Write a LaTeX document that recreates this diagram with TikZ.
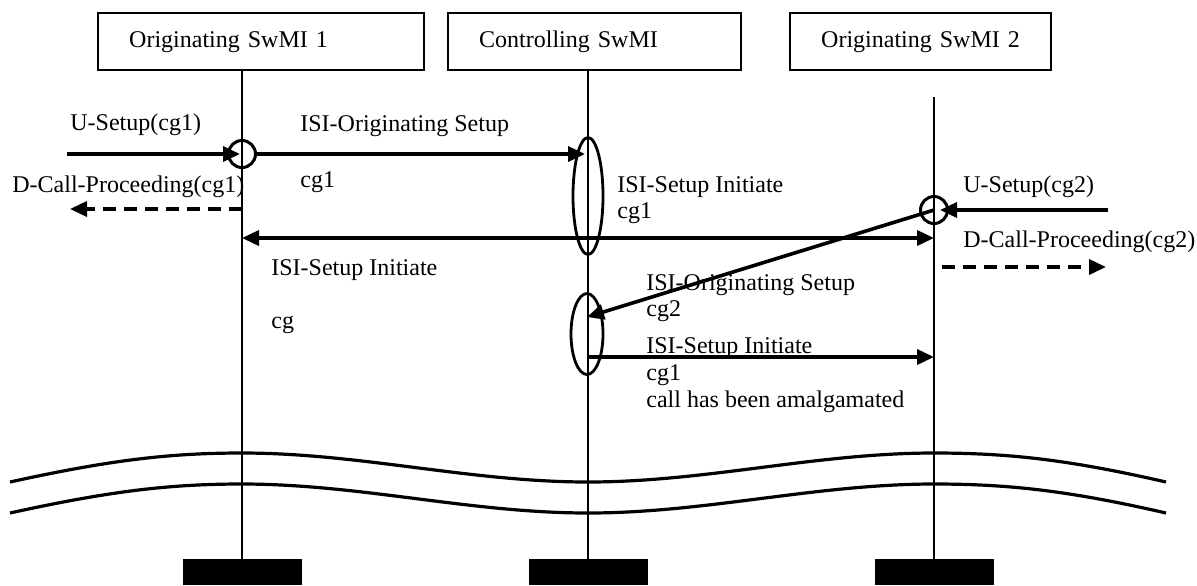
\documentclass[tikz,border=0pt]{standalone}
\usepackage{fontspec}
\setmainfont{Liberation Serif}
\usetikzlibrary{arrows.meta,shapes.geometric}

\begin{document}
\begin{tikzpicture}[
    x=0.5pt, y=-0.5pt,
    every node/.style={font=\fontsize{12}{14.4}\selectfont},
    swmi/.style={draw, line width=1.2pt, anchor=north west, minimum height=28.5pt,
                 inner xsep=15.5pt, align=left},
    foot/.style={fill=black, anchor=north, minimum width=59.5pt, minimum height=13pt, inner sep=0pt},
    life/.style={line width=1.2pt},
    msg/.style={line width=1.8pt, -{Triangle[length=8.5pt,width=7.5pt]}},
    msgboth/.style={line width=1.8pt, {Triangle[length=8.5pt,width=7.5pt]}-{Triangle[length=8.5pt,width=7.5pt]}},
    dmsg/.style={msg, dash pattern=on 6.5pt off 4pt},
    ring/.style={circle, draw, line width=1.5pt, minimum size=13.5pt, inner sep=0pt},
    blob/.style={ellipse, draw, line width=1.4pt, inner sep=0pt},
    lbl/.style={anchor=base west, inner sep=0pt},
    wave/.style={line width=1.6pt}
]
\useasboundingbox (0,0) rectangle (1197,585);

% --- Instanzen (Kopfkaesten) ---
\node[swmi, text width=132pt]  (b1) at (97,12)  {Originating SwMI 1};
\node[swmi, text width=115.5pt] (b2) at (447,12) {Controlling SwMI};
\node[swmi, text width=99.5pt]  (b3) at (789,12) {Originating SwMI 2};

% --- Fuesse der Lebenslinien ---
\node[foot] (foot1) at (242,559) {};
\node[foot] (foot2) at (588,559) {};
\node[foot] (foot3) at (934,559) {};

% --- Lebenslinien ---
\coordinate (l3top) at (934,97);
\draw[life] (b1.south -| foot1.north) -- (foot1.north);
\draw[life] (b2.south -| foot2.north) -- (foot2.north);
\draw[life] (l3top) -- (foot3.north);

% --- Unterbrechung (Wellen) ---
\foreach \dy in {0,31} {
  \draw[wave, shift={(0,\dy)}] (10,482) .. controls (110,460) and (170,453) .. (242,453)
    .. controls (360,453) and (470,482) .. (588,482)
    .. controls (706,482) and (816,453) .. (934,453)
    .. controls (1010,453) and (1070,460) .. (1166,482);
}

% --- Kreise und Ellipsen ---
\node[ring] (c1) at (242,154) {};
\node[ring] (c2) at (934,210) {};
\node[blob, minimum width=15pt, minimum height=58.5pt] (e1) at (588,196) {};
\node[blob, minimum width=16pt, minimum height=40.5pt] (e2) at (587,334) {};

% --- Hilfspunkte ---
\coordinate (u1start) at (67,154);
\coordinate (d1end) at (70,209);
\coordinate (bcast) at (588,238);
\coordinate (u2start) at (1108,210);
\coordinate (d2end) at (1106,267);
\coordinate (amalgam) at (588,357);

% --- Nachrichten ---
\draw[msg, shorten >=1pt] (u1start) -- (c1.center);
\draw[msg, shorten >=1.5pt] (c1.east) -- (c1.east -| e1.center);
\draw[dmsg] (d1end -| c1) -- (d1end);
\draw[msgboth] (bcast -| c1) -- (bcast -| c2);
\draw[msg, shorten >=3pt] (u2start) -- (c2.center);
\draw[dmsg, shorten <=4pt] (d2end -| c2) -- (d2end);
\draw[msg] (c2.center) -- ([yshift=8.5pt]e2.center);
\draw[msg] (amalgam) -- (amalgam -| c2);

% --- Beschriftungen ---
\node[lbl] (u1)     at (70,130)  {U-Setup(cg1)};
\node[lbl] (iso1)   at (300,131) {ISI-Originating Setup};
\node[lbl] (iso1cg) at (300,187) {cg1};
\node[lbl] (dcp1)   at (12,192)  {D-Call-Proceeding(cg1)};
\node[lbl] (sii1)   at (617,192) {ISI-Setup Initiate};
\node[lbl] (sii1cg) at (617,218) {cg1};
\node[lbl] (sii2)   at (271,275) {ISI-Setup Initiate};
\node[lbl] (sii2cg) at (271,328) {cg};
\node[lbl] (u2)     at (963,192) {U-Setup(cg2)};
\node[lbl] (dcp2)   at (963,247) {D-Call-Proceeding(cg2)};
\node[lbl] (iso2)   at (646,290) {ISI-Originating Setup};
\node[lbl] (iso2cg) at (646,316) {cg2};
\node[lbl] (sii3)   at (646,353) {ISI-Setup Initiate};
\node[lbl] (sii3cg) at (646,380) {cg1};
\node[lbl] (amal)   at (646,407) {call has been amalgamated};

\end{tikzpicture}
\end{document}
